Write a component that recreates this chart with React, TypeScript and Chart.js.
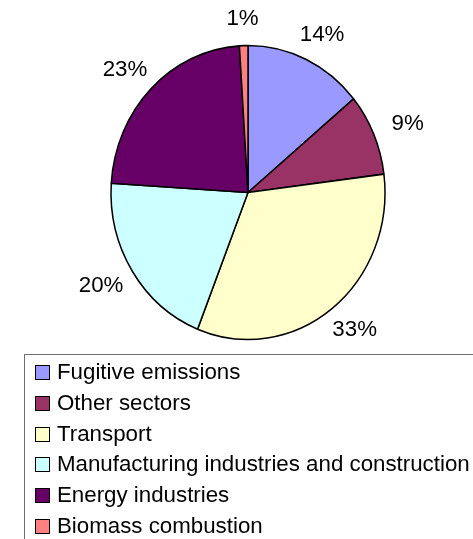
import React, { useEffect, useRef } from "react";
import { Chart, registerables } from "chart.js";

Chart.register(...registerables);

const categories: string[] = [
  "Fugitive emissions",
  "Other sectors",
  "Transport",
  "Manufacturing industries and construction",
  "Energy industries",
  "Biomass combustion",
];
const shares: number[] = [14, 9, 33, 20, 23, 1];
const pctLabels: string[] = ["14%", "9%", "33%", "20%", "23%", "1%"];
const colors: string[] = ["#9999FF", "#993366", "#FFFFCC", "#CCFFFF", "#660066", "#FF8080"];

const FONT = '"Liberation Sans", Arial, sans-serif';
const FONT_SIZE = 22.3;
const W = 473;
const H = 539;
const RX = 137;
const Y_STRETCH = 147.5 / 137.5;

const ellipsePlugin = {
  id: "ellipse",
  beforeDatasetsDraw(chart: any) {
    const arc = chart.getDatasetMeta(0).data[0];
    if (!arc) return;
    const ctx = chart.ctx;
    ctx.save();
    ctx.translate(arc.x, arc.y);
    ctx.scale(1, Y_STRETCH);
    ctx.translate(-arc.x, -arc.y);
  },
  afterDatasetsDraw(chart: any) {
    chart.ctx.restore();
  },
};

const labelPlugin = {
  id: "pctLabels",
  afterDraw(chart: any) {
    const ctx = chart.ctx;
    const meta = chart.getDatasetMeta(0);
    ctx.save();
    ctx.font = `${FONT_SIZE}px ${FONT}`;
    ctx.fillStyle = "#000";
    ctx.textAlign = "center";
    ctx.textBaseline = "middle";
    meta.data.forEach((arc: any, i: number) => {
      const mid = (arc.startAngle + arc.endAngle) / 2;
      const L = arc.outerRadius * 1.27;
      const x = arc.x + L * Math.cos(mid);
      const y = arc.y + L * Math.sin(mid);
      ctx.fillText(pctLabels[i], x, y);
    });
    ctx.restore();
  },
};

const legendPlugin = {
  id: "boxLegend",
  afterDraw(chart: any) {
    const ctx = chart.ctx;
    ctx.save();
    ctx.strokeStyle = "#707070";
    ctx.lineWidth = 1;
    ctx.strokeRect(24.5, 354.5, W + 10, H);
    ctx.font = `${FONT_SIZE}px ${FONT}`;
    ctx.textAlign = "left";
    ctx.textBaseline = "alphabetic";
    categories.forEach((name, i) => {
      const base = 379.3 + i * 30.7;
      const by = Math.round(base - 14) + 0.5;
      ctx.fillStyle = colors[i];
      ctx.fillRect(35.5, by, 14, 14);
      ctx.strokeStyle = "#000";
      ctx.strokeRect(35.5, by, 14, 14);
      ctx.fillStyle = "#000";
      ctx.fillText(name, 57, base);
    });
    ctx.restore();
  },
};

export default function App() {
  const ref = useRef<HTMLCanvasElement | null>(null);
  useEffect(() => {
    document.body.style.margin = "0";
    const canvas = ref.current!;
    const chart = new Chart(canvas, {
      type: "pie",
      data: {
        labels: categories,
        datasets: [
          {
            data: shares,
            backgroundColor: colors,
            borderColor: "#000",
            borderWidth: 1.5,
            hoverOffset: 0,
          },
        ],
      },
      options: {
        responsive: false,
        animation: false,
        devicePixelRatio: 1,
        radius: RX,
        layout: { padding: { left: 23, right: 0, top: 0, bottom: 154 } },
        plugins: {
          legend: { display: false },
          tooltip: { enabled: false },
        },
        events: [],
      } as any,
      plugins: [ellipsePlugin, labelPlugin, legendPlugin],
    });
    return () => chart.destroy();
  }, []);
  return (
    <div style={{ width: W, height: H, position: "relative", background: "#fff" }}>
      <canvas ref={ref} width={W} height={H} style={{ display: "block", width: W, height: H }} />
    </div>
  );
}
